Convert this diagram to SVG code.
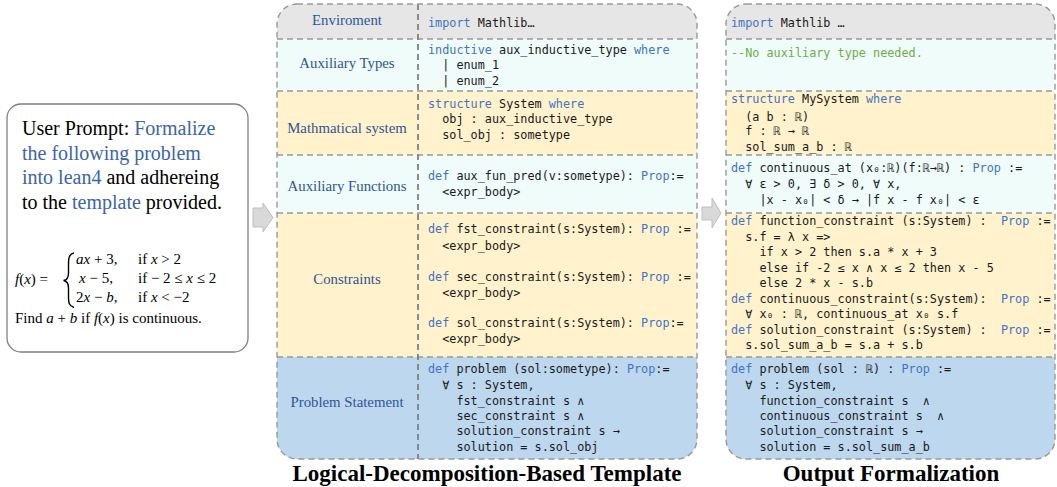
<svg xmlns="http://www.w3.org/2000/svg" width="1057" height="487" viewBox="0 0 1057 487">
<defs>
<style>
.lbl{font-family:"Liberation Serif","Times New Roman",serif;font-size:14.8px;fill:#2f5597;text-anchor:middle}
.code{font-family:"DejaVu Sans Mono","Liberation Mono",monospace;font-size:11.8px;fill:#1a1a1a;white-space:pre}
.k{fill:#4472c4}
.cm{fill:#70ad47}
.title{font-family:"Liberation Serif","Times New Roman",serif;font-weight:bold;font-size:23px;fill:#000;text-anchor:middle}
.dash{stroke:#999;stroke-width:1.4;stroke-dasharray:6 4;fill:none}
.vdash{stroke:#808080;stroke-width:1.8;stroke-dasharray:6 4;fill:none}
.gray{fill:#e6e6e6}.cyan{fill:#effcfa}.ora{fill:#fff2cc}.blu{fill:#bdd7ee}
.pr{font-family:"Liberation Serif","Times New Roman",serif;font-size:20px;fill:#000}
.bl{fill:#3b64ad}
.m{font-family:"Liberation Serif","Times New Roman",serif;font-size:15px;fill:#000}
.i{font-style:italic}
.arrow{fill:#d9d9d9;stroke:#bfbfbf;stroke-width:1}
</style>
<clipPath id="cpT"><rect x="277" y="4" width="420" height="455" rx="20"/></clipPath>
<clipPath id="cpO"><rect x="726" y="4" width="329" height="455" rx="20"/></clipPath>
</defs>
<rect width="1057" height="487" fill="#fff"/>

<g id="prompt">
<rect x="7" y="104" width="241" height="248" rx="14" fill="#fff" stroke="#808080" stroke-width="1.3"/>
<text class="pr" x="22" y="135">User Prompt: <tspan class="bl">Formalize</tspan></text>
<text class="pr" x="22" y="160"><tspan class="bl">the following problem</tspan></text>
<text class="pr" x="22" y="184"><tspan class="bl">into lean4</tspan> and adhereing</text>
<text class="pr" x="22" y="209">to the <tspan class="bl">template</tspan> provided.</text>
<text class="m" x="15" y="284"><tspan class="i">f</tspan>(<tspan class="i">x</tspan>) =</text>
<path d="M74,253 C69,254 68.5,258 68.5,265 L68.5,273 C68.5,278 67,280 63.5,280.5 C67,281 68.5,283 68.5,288 L68.5,296 C68.5,303 69,306 74,307.5" fill="none" stroke="#000" stroke-width="1.4"/>
<text class="m" x="76" y="264"><tspan class="i">ax</tspan> + 3,</text>
<text class="m" x="79" y="283"><tspan class="i">x</tspan> − 5,</text>
<text class="m" x="76" y="302">2<tspan class="i">x</tspan> − <tspan class="i">b</tspan>,</text>
<text class="m" x="138" y="264">if <tspan class="i">x</tspan> &gt; 2</text>
<text class="m" x="138" y="283">if − 2 ≤ <tspan class="i">x</tspan> ≤ 2</text>
<text class="m" x="138" y="302">if <tspan class="i">x</tspan> &lt; −2</text>
<text class="m" x="15" y="323">Find <tspan class="i">a</tspan> + <tspan class="i">b</tspan> if <tspan class="i">f</tspan>(<tspan class="i">x</tspan>) is continuous.</text>
</g>

<g id="connectors">
<path class="arrow" d="M253,208 L263,208 L263,203 L273,217.5 L263,232 L263,227 L253,227 Z"/>
<path class="arrow" d="M702,207 L712,207 L712,198 L721,213 L712,228 L712,220 L702,220 Z"/>
</g>

<g id="template">
<g clip-path="url(#cpT)">
<rect class="gray" x="277" y="4" width="420" height="35"/>
<rect class="cyan" x="277" y="39" width="420" height="52"/>
<rect class="ora" x="277" y="91" width="420" height="64"/>
<rect class="cyan" x="277" y="155" width="420" height="58"/>
<rect class="ora" x="277" y="213" width="420" height="144"/>
<rect class="blu" x="277" y="357" width="420" height="102"/>
</g>
<path class="dash" d="M277,39H697M277,91H697M277,155H697M277,213H697M277,357H697"/>
<path class="vdash" d="M418,4V459"/>
<rect class="dash" x="277" y="4" width="420" height="455" rx="20"/>
<g id="template-labels">
<text class="lbl" x="347" y="25">Enviroment</text>
<text class="lbl" x="347" y="68">Auxiliary Types</text>
<text class="lbl" x="347" y="133">Mathmatical system</text>
<text class="lbl" x="347" y="191">Auxiliary Functions</text>
<text class="lbl" x="347" y="284">Constraints</text>
<text class="lbl" x="347" y="407">Problem Statement</text>
</g>
<g id="template-code">
<text xml:space="preserve" class="code" x="428" y="27"><tspan class="k">import</tspan> Mathlib…</text>
<text xml:space="preserve" class="code" x="428" y="54"><tspan class="k">inductive</tspan> aux_inductive_type <tspan class="k">where</tspan></text>
<text xml:space="preserve" class="code" x="428" y="69">  | enum_1</text>
<text xml:space="preserve" class="code" x="428" y="85">  | enum_2</text>
<text xml:space="preserve" class="code" x="428" y="108"><tspan class="k">structure</tspan> System <tspan class="k">where</tspan></text>
<text xml:space="preserve" class="code" x="428" y="123">  obj : aux_inductive_type</text>
<text xml:space="preserve" class="code" x="428" y="139">  sol_obj : sometype</text>
<text xml:space="preserve" class="code" x="428" y="180"><tspan class="k">def</tspan> aux_fun_pred(v:sometype): <tspan class="k">Prop</tspan>:=</text>
<text xml:space="preserve" class="code" x="428" y="196">  &lt;expr_body&gt;</text>
<text xml:space="preserve" class="code" x="428" y="233"><tspan class="k">def</tspan> fst_constraint(s:System): <tspan class="k">Prop</tspan> :=</text>
<text xml:space="preserve" class="code" x="428" y="250">  &lt;expr_body&gt;</text>
<text xml:space="preserve" class="code" x="428" y="281"><tspan class="k">def</tspan> sec_constraint(s:System): <tspan class="k">Prop</tspan> :=</text>
<text xml:space="preserve" class="code" x="428" y="297">  &lt;expr_body&gt;</text>
<text xml:space="preserve" class="code" x="428" y="327"><tspan class="k">def</tspan> sol_constraint(s:System): <tspan class="k">Prop</tspan>:=</text>
<text xml:space="preserve" class="code" x="428" y="343">  &lt;expr_body&gt;</text>
<text xml:space="preserve" class="code" x="428" y="373"><tspan class="k">def</tspan> problem (sol:sometype): <tspan class="k">Prop</tspan>:=</text>
<text xml:space="preserve" class="code" x="428" y="389">  ∀ s : System,</text>
<text xml:space="preserve" class="code" x="428" y="405">    fst_constraint s ∧</text>
<text xml:space="preserve" class="code" x="428" y="420">    sec_constraint s ∧</text>
<text xml:space="preserve" class="code" x="428" y="435">    solution_constraint s →</text>
<text xml:space="preserve" class="code" x="428" y="451">    solution = s.sol_obj</text>
</g>
</g>

<g id="output">
<g clip-path="url(#cpO)">
<rect class="gray" x="726" y="4" width="329" height="35"/>
<rect class="cyan" x="726" y="39" width="329" height="52"/>
<rect class="ora" x="726" y="91" width="329" height="64"/>
<rect class="cyan" x="726" y="155" width="329" height="58"/>
<rect class="ora" x="726" y="213" width="329" height="144"/>
<rect class="blu" x="726" y="357" width="329" height="102"/>
</g>
<path class="dash" d="M726,39H1055M726,91H1055M726,155H1055M726,213H1055M726,357H1055"/>
<rect class="dash" x="726" y="4" width="329" height="455" rx="20"/>
<g id="output-code">
<text xml:space="preserve" class="code" x="731" y="27"><tspan class="k">import</tspan> Mathlib …</text>
<text xml:space="preserve" class="code cm" x="731" y="57">--No auxiliary type needed.</text>
<text xml:space="preserve" class="code" x="731" y="103"><tspan class="k">structure</tspan> MySystem <tspan class="k">where</tspan></text>
<text xml:space="preserve" class="code" x="731" y="121">  (a b : ℝ)</text>
<text xml:space="preserve" class="code" x="731" y="135">  f : ℝ → ℝ</text>
<text xml:space="preserve" class="code" x="731" y="151">  sol_sum_a_b : ℝ</text>
<text xml:space="preserve" class="code" x="731" y="172"><tspan class="k">def</tspan> continuous_at (x₀:ℝ)(f:ℝ→ℝ) : <tspan class="k">Prop</tspan> :=</text>
<text xml:space="preserve" class="code" x="731" y="188">  ∀ ε &gt; 0, ∃ δ &gt; 0, ∀ x,</text>
<text xml:space="preserve" class="code" x="731" y="204">    |x - x₀| &lt; δ → |f x - f x₀| &lt; ε</text>
<text xml:space="preserve" class="code" x="731" y="225"><tspan class="k">def</tspan> function_constraint (s:System) :  <tspan class="k">Prop</tspan> :=</text>
<text xml:space="preserve" class="code" x="731" y="241">  s.f = λ x =&gt;</text>
<text xml:space="preserve" class="code" x="731" y="256">    if x &gt; 2 then s.a * x + 3</text>
<text xml:space="preserve" class="code" x="731" y="272">    else if -2 ≤ x ∧ x ≤ 2 then x - 5</text>
<text xml:space="preserve" class="code" x="731" y="287">    else 2 * x - s.b</text>
<text xml:space="preserve" class="code" x="731" y="303"><tspan class="k">def</tspan> continuous_constraint(s:System):  <tspan class="k">Prop</tspan> :=</text>
<text xml:space="preserve" class="code" x="731" y="318">  ∀ x₀ : ℝ, continuous_at x₀ s.f</text>
<text xml:space="preserve" class="code" x="731" y="334"><tspan class="k">def</tspan> solution_constraint (s:System) :  <tspan class="k">Prop</tspan> :=</text>
<text xml:space="preserve" class="code" x="731" y="349">  s.sol_sum_a_b = s.a + s.b</text>
<text xml:space="preserve" class="code" x="731" y="373"><tspan class="k">def</tspan> problem (sol : ℝ) : <tspan class="k">Prop</tspan> :=</text>
<text xml:space="preserve" class="code" x="731" y="389">  ∀ s : System,</text>
<text xml:space="preserve" class="code" x="731" y="405">    function_constraint s  ∧</text>
<text xml:space="preserve" class="code" x="731" y="420">    continuous_constraint s  ∧</text>
<text xml:space="preserve" class="code" x="731" y="435">    solution_constraint s →</text>
<text xml:space="preserve" class="code" x="731" y="451">    solution = s.sol_sum_a_b</text>
</g>
</g>

<g id="titles">
<text class="title" x="487" y="481">Logical-Decomposition-Based Template</text>
<text class="title" x="891" y="481">Output Formalization</text>
</g>
</svg>
